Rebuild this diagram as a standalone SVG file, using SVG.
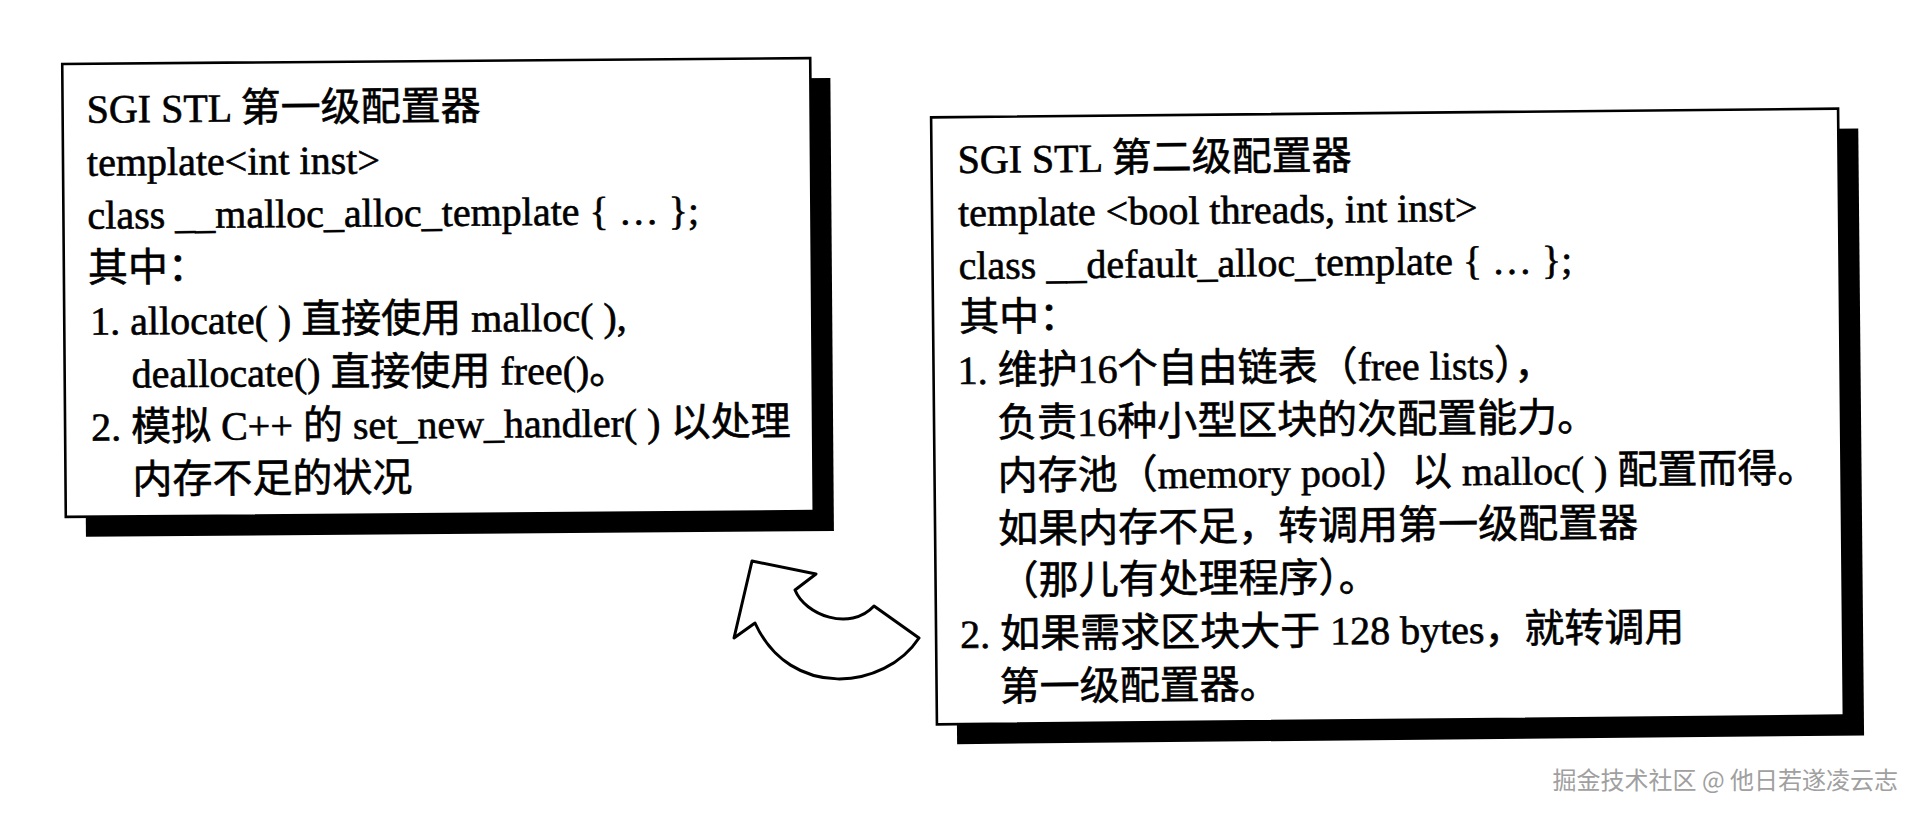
<svg xmlns="http://www.w3.org/2000/svg" width="1918" height="818" viewBox="0 0 1918 818">
<style>
.box{fill:#fff;stroke:#000;stroke-width:2.6}
.shadow{fill:#000}
.t{font-family:"Liberation Serif","Noto Sans CJK SC",serif;font-size:40px;fill:#000;stroke:#000;stroke-width:0.6}
.wm{font-family:"Noto Sans CJK SC","Liberation Sans",sans-serif;font-size:24px;fill:#a0a0a0}
.arrow{fill:#fff;stroke:#000;stroke-width:3;stroke-linejoin:round}
</style>
<rect width="1918" height="818" fill="#fff"/>
<g id="node-first-level" transform="rotate(-0.45 438 287.5)">
<rect class="shadow" x="84" y="81" width="748" height="453"/>
<rect class="box" x="64" y="61" width="748" height="453"/>
<text class="t" x="88" y="120">SGI STL 第一级配置器</text>
<text class="t" x="88" y="173">template&lt;int inst&gt;</text>
<text class="t" x="88" y="226">class __malloc_alloc_template { … };</text>
<text class="t" x="88" y="279">其中：</text>
<text class="t" x="90" y="332">1. allocate( ) 直接使用 malloc( ),</text>
<text class="t" x="131" y="385">deallocate() 直接使用 free()。</text>
<text class="t" x="90" y="438">2. 模拟 C++ 的 set_new_handler( ) 以处理</text>
<text class="t" x="131" y="491">内存不足的状况</text>
</g>
<g id="node-second-level" transform="rotate(-0.55 1387.5 416.5)">
<rect class="shadow" x="954" y="133" width="907" height="607"/>
<rect class="box" x="934" y="113" width="907" height="607"/>
<text class="t" x="960" y="169">SGI STL 第二级配置器</text>
<text class="t" x="960" y="222">template &lt;bool threads, int inst&gt;</text>
<text class="t" x="960" y="275">class __default_alloc_template { … };</text>
<text class="t" x="960" y="327">其中：</text>
<text class="t" x="958" y="380">1. 维护16个自由链表（free lists），</text>
<text class="t" x="997" y="433">负责16种小型区块的次配置能力。</text>
<text class="t" x="997" y="486">内存池（memory pool）以 malloc( ) 配置而得。</text>
<text class="t" x="997" y="539">如果内存不足，转调用第一级配置器</text>
<text class="t" x="997" y="591">（那儿有处理程序）。</text>
<text class="t" x="958" y="644">2. 如果需求区块大于 128 bytes，就转调用</text>
<text class="t" x="997" y="697">第一级配置器。</text>
</g>
<g id="connectors">
<path class="arrow" d="M752,561 L816,574 L795,590 C805,615 850,632 874,606 L919,638 C885,690 790,700 755,623 L734,638 Z"/>
</g>
<text class="wm" x="1898" y="789" text-anchor="end">掘金技术社区 @ 他日若遂凌云志</text>
</svg>
